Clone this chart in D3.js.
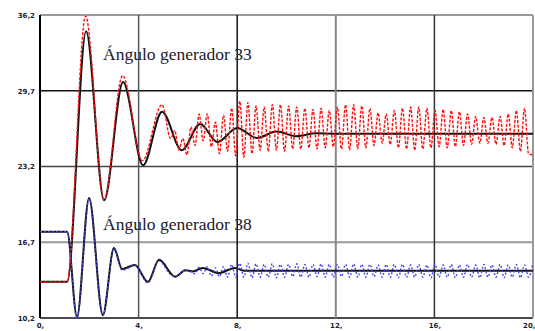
<!DOCTYPE html>
<html>
<head>
<meta charset="utf-8">
<script src="https://cdn.jsdelivr.net/npm/d3@7/dist/d3.min.js"></script>
<style>
  html, body { margin: 0; padding: 0; background: #fff; }
  svg { display: block; }
  .tick text { font-family: "DejaVu Sans", Arial, sans-serif; font-weight: bold; fill: #1c1c38; }
</style>
</head>
<body>
<div id="chart"></div>
<script>
// ticks
const xTicks = [0, 4, 8, 12, 16, 20];
const yTicks = [10.2, 16.7, 23.2, 29.7, 36.2];

// labels
const labels = [
  { text: 'Ángulo generador 33', t: 2.56, v: 32.35 },
  { text: 'Ángulo generador 38', t: 2.56, v: 17.75 }
];

// generador 33, curva negra (t, grados)
const gen33Black = [
  [0, 13.3], [1.1, 13.3], [1.87, 34.8], [2.6, 20.3], [3.37, 30.45], [4.18, 23.3],
  [4.95, 27.9], [5.75, 24.6], [6.5, 26.85], [7.2, 25.3], [8.0, 26.5], [8.8, 25.65],
  [9.6, 26.2], [10.4, 25.8], [11.2, 26.05], [12.0, 26.0], [20, 26.0]
];
// generador 33, curva roja hasta que empieza la oscilación
const gen33RedStart = [
  [0, 13.3], [1.1, 13.3], [1.85, 36.1], [2.6, 20.3], [3.35, 31.0], [4.15, 23.7], [4.95, 28.5]
];

// generador 38, curva negra
const gen38Black = [
  [0, 17.6], [1.1, 17.6], [1.5, 10.3], [1.99, 20.5], [2.55, 10.45], [3.0, 16.2],
  [3.33, 14.4], [3.85, 14.75], [4.38, 13.3], [4.83, 15.2], [5.48, 13.75], [5.9, 14.3],
  [6.2, 14.2], [6.6, 14.5], [7.25, 14.05], [7.9, 14.5], [8.3, 14.25], [20, 14.25]
];
// generador 38, curva azul hasta la oscilación
const gen38BlueStart = [
  [0, 17.6], [1.1, 17.6], [1.5, 10.2], [1.99, 20.4], [2.55, 10.4], [3.0, 16.1],
  [3.33, 14.3], [3.85, 14.7], [4.38, 13.2], [4.83, 15.1]
];

// instantes de la oscilación (picos y valles)
const oscTimes = [
  5.30, 5.465, 5.63, 5.795, 5.96, 6.125, 6.29, 6.455, 6.62, 6.785,
  6.95, 7.115, 7.28, 7.445, 7.61, 7.775, 7.94, 8.105, 8.27, 8.435,
  8.60, 8.765, 8.93, 9.095, 9.26, 9.425, 9.59, 9.755, 9.92, 10.085,
  10.25, 10.415, 10.58, 10.745, 10.91, 11.075, 11.24, 11.405, 11.57, 11.735,
  11.90, 12.065, 12.23, 12.395, 12.56, 12.725, 12.89, 13.055, 13.22, 13.385,
  13.55, 13.715, 13.88, 14.045, 14.21, 14.375, 14.54, 14.705, 14.87, 15.035,
  15.20, 15.365, 15.53, 15.695, 15.86, 16.025, 16.19, 16.355, 16.52, 16.685,
  16.85, 17.015, 17.18, 17.345, 17.51, 17.675, 17.84, 18.005, 18.17, 18.335,
  18.50, 18.665, 18.83, 18.995, 19.16, 19.325, 19.49, 19.655, 19.82, 19.985
];
const gen33RedOsc = [
  25.6, 26.3, 24.6, 25.6, 24.2, 26.6, 25.0, 27.7, 25.4, 27.7,
  24.9, 27.0, 24.3, 27.6, 24.5, 28.2, 24.1, 28.8, 24.0, 28.7,
  24.3, 28.4, 24.6, 28.3, 24.5, 28.5, 24.6, 28.5, 24.5, 28.4,
  24.7, 28.3, 24.7, 28.2, 24.8, 28.1, 24.7, 28.2, 24.8, 28.0,
  24.9, 28.3, 24.7, 28.5, 24.6, 28.5, 24.7, 28.4, 24.8, 28.2,
  25.0, 27.8, 25.2, 27.7, 25.1, 28.0, 24.8, 28.2, 24.7, 28.3,
  24.6, 28.3, 24.7, 28.2, 24.8, 28.0, 24.9, 28.1, 24.8, 28.0,
  24.9, 27.9, 25.0, 27.7, 25.1, 27.5, 25.2, 27.4, 25.2, 27.4,
  25.1, 27.5, 25.0, 27.7, 24.8, 28.0, 24.5, 28.2, 24.3, 24.2
];
const gen38BlueOsc = [
  13.9, 13.75, 13.9, 14.2, 14.3, 14.15, 14.0, 14.55, 14.0, 14.6,
  13.8, 14.5, 13.75, 14.6, 13.7, 14.8, 13.7, 14.9, 13.7, 14.9,
  13.65, 14.85, 13.7, 14.8, 13.7, 14.85, 13.65, 14.8, 13.7, 14.8,
  13.75, 14.85, 13.7, 14.8, 13.7, 14.8, 13.75, 14.85, 13.7, 14.8,
  13.7, 14.8, 13.75, 14.8, 13.7, 14.85, 13.7, 14.8, 13.7, 14.8,
  13.75, 14.75, 13.7, 14.8, 13.7, 14.8, 13.65, 14.8, 13.7, 14.75,
  13.7, 14.8, 13.7, 14.75, 13.65, 14.8, 13.7, 14.75, 13.7, 14.8,
  13.65, 14.75, 13.7, 14.8, 13.7, 14.75, 13.65, 14.8, 13.7, 14.75,
  13.7, 14.8, 13.65, 14.75, 13.7, 14.8, 13.65, 14.75, 13.7, 14.8
];

const width = 535, height = 331;
const margin = { top: 15, right: 2, bottom: 13, left: 40 };

const svg = d3.select('#chart').append('svg')
  .attr('width', width)
  .attr('height', height);

const x = d3.scaleLinear().domain([0, 20]).range([margin.left, width - margin.right]);
const y = d3.scaleLinear().domain([10.2, 36.2]).range([height - margin.bottom, margin.top]);

// rejilla
const hStyle = { 10.2: ['#111', 1.6], 16.7: ['#999', 2], 23.2: ['#444', 1.4], 29.7: ['#111', 1.3], 36.2: ['#999', 2] };
const vStyle = { 0: ['#000', 2], 4: ['#555', 1.5], 8: ['#111', 1.5], 12: ['#888', 2], 16: ['#333', 1.5], 20: ['#999', 2] };

svg.append('g').selectAll('line')
  .data(yTicks)
  .enter().append('line')
  .attr('x1', x(0)).attr('x2', x(20))
  .attr('y1', d => y(d)).attr('y2', d => y(d))
  .attr('stroke', d => hStyle[d][0])
  .attr('stroke-width', d => hStyle[d][1]);

svg.append('g').selectAll('line')
  .data(xTicks)
  .enter().append('line')
  .attr('x1', d => x(d)).attr('x2', d => x(d))
  .attr('y1', y(36.2)).attr('y2', y(10.2))
  .attr('stroke', d => vStyle[d][0])
  .attr('stroke-width', d => vStyle[d][1]);

// ejes (solo etiquetas)
const fmt = d => d3.format('.1f')(d).replace('.', ',');
const yAxis = svg.append('g')
  .attr('transform', `translate(${x(0)},0)`)
  .call(d3.axisLeft(y).tickValues(yTicks).tickSize(0).tickPadding(5).tickFormat(fmt));
yAxis.select('.domain').remove();
yAxis.selectAll('text').attr('font-size', '7px');

const xAxis = svg.append('g')
  .attr('transform', `translate(0,${y(10.2)})`)
  .call(d3.axisBottom(x).tickValues(xTicks).tickSize(0).tickPadding(5).tickFormat(d => d + ','));
xAxis.select('.domain').remove();
xAxis.selectAll('text').attr('font-size', '7px')
  .attr('text-anchor', d => d === 20 ? 'end' : 'middle')
  .attr('dx', d => d === 20 ? '2' : '0');

// curvas
const line = d3.line()
  .x(d => x(d[0]))
  .y(d => y(d[1]))
  .curve(d3.curveMonotoneX);

const gen33Red = gen33RedStart.concat(oscTimes.map((t, i) => [t, gen33RedOsc[i]]));
const gen38Blue = gen38BlueStart.concat(oscTimes.map((t, i) => [t, gen38BlueOsc[i]]));

svg.append('path')
  .datum(gen33Black)
  .attr('d', line)
  .attr('fill', 'none')
  .attr('stroke', '#111')
  .attr('stroke-width', 2);

svg.append('path')
  .datum(gen38Black)
  .attr('d', line)
  .attr('fill', 'none')
  .attr('stroke', '#111')
  .attr('stroke-width', 2);

svg.append('path')
  .datum(gen33Red)
  .attr('d', line)
  .attr('fill', 'none')
  .attr('stroke', '#ff1010')
  .attr('stroke-width', 1.4)
  .attr('stroke-dasharray', '3,1.5');

svg.append('path')
  .datum(gen38Blue)
  .attr('d', line)
  .attr('fill', 'none')
  .attr('stroke', '#4444ee')
  .attr('stroke-width', 1.4)
  .attr('stroke-dasharray', '2,2');

// textos
svg.selectAll('.lbl')
  .data(labels)
  .enter().append('text')
  .attr('class', 'lbl')
  .attr('x', d => x(d.t))
  .attr('y', d => y(d.v))
  .attr('font-family', '"Liberation Serif", "DejaVu Serif", serif')
  .attr('font-size', '17.5px')
  .attr('fill', '#1a1a2e')
  .text(d => d.text);
</script>
</body>
</html>
